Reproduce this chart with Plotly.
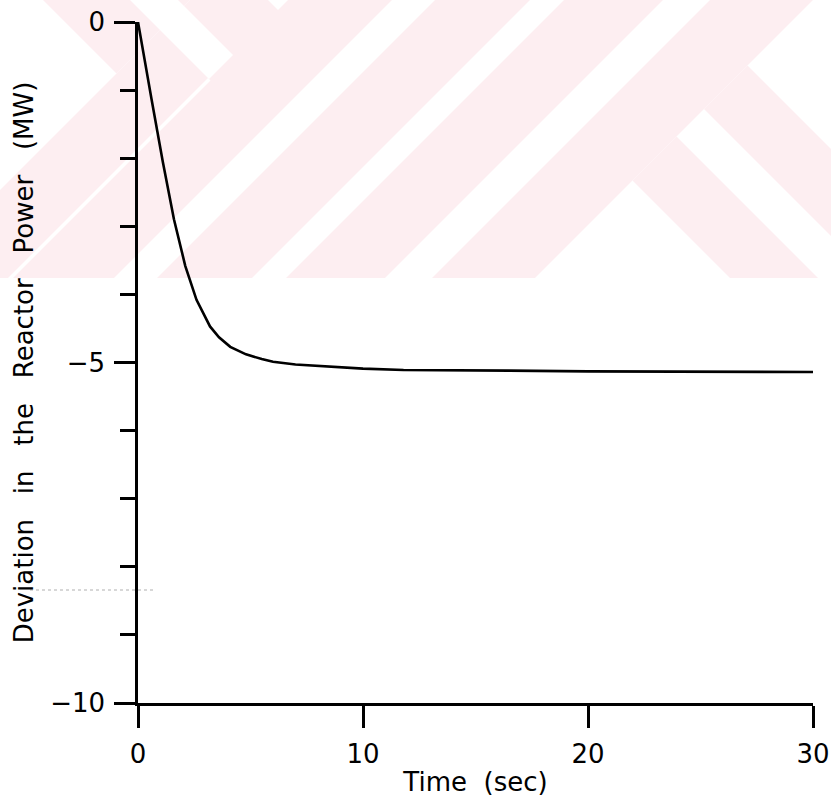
import plotly.graph_objects as go

# ---- data ----
time_s = [0, 0.05, 0.1, 0.16, 0.6, 1.1, 1.6, 2.1, 2.6, 3.2, 3.6, 4.1, 4.8, 5.5,
          6.0, 7.0, 8.5, 10.0, 11.8, 13.0, 16.5, 20.0, 22.0, 26.5, 30.0]
power_dev = [0, -0.1, -0.18, -0.26, -1.13, -2.05, -2.9, -3.58, -4.08, -4.47, -4.63,
             -4.77, -4.88, -4.95, -4.99, -5.03, -5.06, -5.09, -5.11, -5.11, -5.12,
             -5.13, -5.13, -5.14, -5.14]
x_ticks = [0, 10, 20, 30]
y_ticks = [0, -5, -10]
SP = "\u00a0\u00a0\u00a0"
x_title = "Time\u00a0\u00a0(sec)"
y_title = SP.join(["Deviation", "in", "the", "Reactor", "Power", "(MW)"]) + "\u00a0\u00a0"

W, H = 831, 797
ML, MR, MT, MB = 138, 18, 22, 94
PW, PH = W - ML - MR, H - MT - MB

fig = go.Figure()
fig.add_trace(go.Scatter(x=time_s, y=power_dev, mode="lines",
                         line=dict(color="black", width=2.6),
                         cliponaxis=False, hoverinfo="skip"))

# ---- faint background watermark (pixel geometry -> paper coords) ----
def clip(poly, a, b, c):
    out = []
    n = len(poly)
    for i in range(n):
        p, q = poly[i], poly[(i + 1) % n]
        fp = a * p[0] + b * p[1] - c
        fq = a * q[0] + b * q[1] - c
        if fp <= 0:
            out.append(p)
        if (fp < 0 < fq) or (fq < 0 < fp):
            t = fp / (fp - fq)
            out.append((p[0] + t * (q[0] - p[0]), p[1] + t * (q[1] - p[1])))
    return out

RECT = [(0, 0), (W, 0), (W, 278), (0, 278)]

def region(cons):
    poly = RECT
    for a, b, c in cons:
        poly = clip(poly, a, b, c)
        if not poly:
            break
    return poly

def sum_in(lo, hi):
    return [(-1, -1, -lo), (1, 1, hi)]

def diff_in(lo, hi):
    return [(-1, 1, -lo), (1, -1, hi)]

def to_path(poly):
    pts = [((x - ML) / PW, (H - MB - y) / PH) for x, y in poly]
    return "M " + " L ".join(f"{px:.5f},{py:.5f}" for px, py in pts) + " Z"

PINK = "#fdeef1"
regions = [
    (PINK, []),
    ("white", sum_in(392, 435)),
    ("white", sum_in(530, 564)),
    ("white", sum_in(663, 710)),
    ("white", [(-1, -1, -813)]),
    ("white", [(1, 1, 190)]),
    ("white", diff_in(130, 178) + [(1, 1, 288)]),
    ("white", [(-1, 1, -268), (1, 1, 288)]),
    ("white", sum_in(286, 291) + [(1, -1, 130)]),
    (PINK, [(-1, -1, -813)] + diff_in(595, 682)),
    (PINK, [(-1, -1, -813)] + diff_in(452, 540)),
    (PINK, [(1, 1, 190)] + diff_in(43, 130)),
    (PINK, [(1, 1, 190), (-1, 1, -178)]),
]
shapes = []
for col, cons in regions:
    poly = region(cons)
    if len(poly) >= 3:
        shapes.append(dict(type="path", path=to_path(poly), xref="paper", yref="paper",
                           fillcolor=col, line=dict(width=0), layer="below"))
# faint scan artefact
shapes.append(dict(type="line", xref="paper", yref="paper",
                   x0=(30 - ML) / PW, x1=(153 - ML) / PW,
                   y0=(H - MB - 590) / PH, y1=(H - MB - 590) / PH,
                   line=dict(color="#b0b0b0", width=1.2, dash="dot"), layer="below"))

fig.update_layout(
    width=W, height=H,
    margin=dict(l=ML, r=MR, t=MT, b=MB, autoexpand=False),
    paper_bgcolor="white", plot_bgcolor="rgba(0,0,0,0)",
    showlegend=False,
    font=dict(family="DejaVu Sans", size=26, color="black"),
    shapes=shapes,
)
fig.update_xaxes(
    range=[0, 30], tickvals=x_ticks, ticks="outside", ticklen=22, tickwidth=2.5,
    tickcolor="black", showline=True, linewidth=2.5, linecolor="black",
    showgrid=False, zeroline=False, ticklabelstandoff=4, automargin=False,
    tickfont=dict(size=26),
    title=dict(text=x_title, standoff=8, font=dict(size=26)),
)
fig.update_yaxes(
    range=[-10, 0], tickvals=y_ticks, ticks="outside", ticklen=21, tickwidth=2.5,
    tickcolor="black", showline=True, linewidth=2.5, linecolor="black",
    showgrid=False, zeroline=False, ticklabelstandoff=4, automargin=False,
    tickfont=dict(size=26),
    minor=dict(dtick=1, ticks="outside", ticklen=15, tickwidth=2.5, tickcolor="black",
               showgrid=False),
    title=dict(text=y_title, standoff=10, font=dict(size=26)),
)

fig.write_html("out.html")
